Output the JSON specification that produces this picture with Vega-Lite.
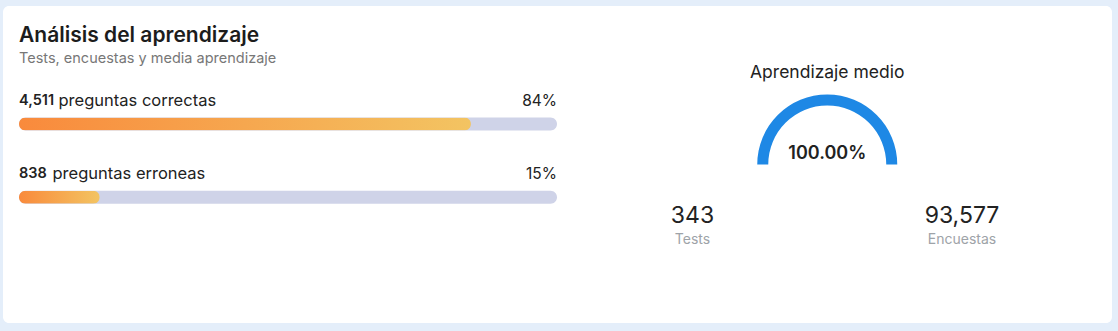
{
  "$schema": "https://vega.github.io/schema/vega-lite/v6.json",
  "width": 1118,
  "height": 331,
  "autosize": {"type": "fit", "contains": "padding"},
  "padding": {"left": 3, "top": 6, "right": 6, "bottom": 8},
  "background": "#e4eefa",
  "config": {
    "view": {"fill": "#ffffff", "stroke": null, "cornerRadius": 6},
    "font": "Inter",
    "text": {"font": "Inter"}
  },
  "title": {
    "text": "Análisis del aprendizaje",
    "subtitle": "Tests, encuestas y media aprendizaje",
    "anchor": "start",
    "frame": "group",
    "orient": "top",
    "offset": -59,
    "dx": 16,
    "font": "Inter",
    "fontSize": 21,
    "fontWeight": 600,
    "color": "#1c1c1c",
    "subtitleFont": "Inter",
    "subtitleFontSize": 14.5,
    "subtitleColor": "#777777",
    "subtitlePadding": 5.5
  },
  "datasets": {
    "questions": [
      {"metric": "correctas", "label": "preguntas correctas", "count": 4511, "share": 0.84},
      {"metric": "erroneas", "label": "preguntas erroneas", "count": 838, "share": 0.15}
    ],
    "gauge": [{"name": "Aprendizaje medio", "value": 1}],
    "stats": [
      {"kind": "Tests", "value": 343},
      {"kind": "Encuestas", "value": 93577}
    ]
  },
  "layer": [
    {
      "data": {"name": "questions"},
      "mark": {"type": "bar", "color": "#cfd3e8", "size": 13, "cornerRadius": 6.5},
      "encoding": {
        "x": {"datum": 1, "type": "quantitative", "scale": {"domain": [0, 1], "range": [16, 554], "nice": false}, "axis": null},
        "y": {"field": "metric", "type": "nominal", "scale": {"type": "point", "domain": ["correctas", "erroneas"], "range": [118, 191.3], "padding": 0}, "axis": null}
      }
    },
    {
      "data": {"name": "questions"},
      "mark": {
        "type": "bar", "size": 13, "cornerRadius": 6.5,
        "color": {"gradient": "linear", "x1": 0, "x2": 1, "y1": 0, "y2": 0,
          "stops": [{"offset": 0, "color": "#f98a3c"}, {"offset": 1, "color": "#f3c462"}]}
      },
      "encoding": {
        "x": {"field": "share", "type": "quantitative", "scale": {"domain": [0, 1], "range": [16, 554], "nice": false}, "axis": null},
        "y": {"field": "metric", "type": "nominal", "scale": {"type": "point", "domain": ["correctas", "erroneas"], "range": [118, 191.3], "padding": 0}, "axis": null}
      }
    },
    {
      "data": {"name": "questions"},
      "mark": {"type": "text", "align": "left", "baseline": "middle", "dy": -23.5, "fontSize": 14.5, "fontWeight": 600, "color": "#222222"},
      "encoding": {
        "x": {"datum": 0, "type": "quantitative", "scale": {"domain": [0, 1], "range": [16, 554], "nice": false}, "axis": null},
        "y": {"field": "metric", "type": "nominal", "scale": {"type": "point", "domain": ["correctas", "erroneas"], "range": [118, 191.3], "padding": 0}, "axis": null},
        "text": {"field": "count", "type": "quantitative", "format": ",d"}
      }
    },
    {
      "data": {"name": "questions"},
      "transform": [{"filter": "datum.metric === 'correctas'"}],
      "mark": {"type": "text", "align": "left", "baseline": "middle", "dy": -23.5, "dx": 39.5, "fontSize": 16.5, "color": "#222222"},
      "encoding": {
        "x": {"datum": 0, "type": "quantitative", "scale": {"domain": [0, 1], "range": [16, 554], "nice": false}, "axis": null},
        "y": {"field": "metric", "type": "nominal", "scale": {"type": "point", "domain": ["correctas", "erroneas"], "range": [118, 191.3], "padding": 0}, "axis": null},
        "text": {"field": "label", "type": "nominal"}
      }
    },
    {
      "data": {"name": "questions"},
      "transform": [{"filter": "datum.metric === 'erroneas'"}],
      "mark": {"type": "text", "align": "left", "baseline": "middle", "dy": -23.5, "dx": 33.5, "fontSize": 16.5, "color": "#222222"},
      "encoding": {
        "x": {"datum": 0, "type": "quantitative", "scale": {"domain": [0, 1], "range": [16, 554], "nice": false}, "axis": null},
        "y": {"field": "metric", "type": "nominal", "scale": {"type": "point", "domain": ["correctas", "erroneas"], "range": [118, 191.3], "padding": 0}, "axis": null},
        "text": {"field": "label", "type": "nominal"}
      }
    },
    {
      "data": {"name": "questions"},
      "mark": {"type": "text", "align": "right", "baseline": "middle", "dy": -23.5, "fontSize": 15.5, "color": "#222222"},
      "encoding": {
        "x": {"datum": 1, "type": "quantitative", "scale": {"domain": [0, 1], "range": [16, 554], "nice": false}, "axis": null},
        "y": {"field": "metric", "type": "nominal", "scale": {"type": "point", "domain": ["correctas", "erroneas"], "range": [118, 191.3], "padding": 0}, "axis": null},
        "text": {"field": "share", "type": "quantitative", "format": ".0%"}
      }
    },
    {
      "data": {"name": "gauge"},
      "mark": {"type": "arc", "innerRadius": 59, "outerRadius": 70, "color": "#1e88e5"},
      "encoding": {
        "x": {"field": "name", "type": "nominal", "scale": {"type": "point", "domain": ["Tests", "Aprendizaje medio", "Encuestas"], "range": [689.5, 959], "padding": 0}, "axis": null},
        "theta": {"field": "value", "type": "quantitative", "scale": {"domain": [0, 1], "range": [-1.5707963, 1.5707963]}}
      }
    },
    {
      "data": {"name": "gauge"},
      "mark": {"type": "text", "align": "center", "baseline": "middle", "dy": -91.5, "fontSize": 17.5, "color": "#222222"},
      "encoding": {
        "x": {"field": "name", "type": "nominal", "scale": {"type": "point", "domain": ["Tests", "Aprendizaje medio", "Encuestas"], "range": [689.5, 959], "padding": 0}, "axis": null},
        "text": {"field": "name", "type": "nominal"}
      }
    },
    {
      "data": {"name": "gauge"},
      "mark": {"type": "text", "align": "center", "baseline": "middle", "dy": -11, "fontSize": 18, "fontWeight": 600, "color": "#222222"},
      "encoding": {
        "x": {"field": "name", "type": "nominal", "scale": {"type": "point", "domain": ["Tests", "Aprendizaje medio", "Encuestas"], "range": [689.5, 959], "padding": 0}, "axis": null},
        "text": {"field": "value", "type": "quantitative", "format": ".2%"}
      }
    },
    {
      "data": {"name": "stats"},
      "mark": {"type": "text", "align": "center", "baseline": "middle", "dy": 51.5, "fontSize": 23, "color": "#222222"},
      "encoding": {
        "x": {"field": "kind", "type": "nominal", "scale": {"type": "point", "domain": ["Tests", "Aprendizaje medio", "Encuestas"], "range": [689.5, 959], "padding": 0}, "axis": null},
        "text": {"field": "value", "type": "quantitative", "format": ","}
      }
    },
    {
      "data": {"name": "stats"},
      "mark": {"type": "text", "align": "center", "baseline": "middle", "dy": 75, "fontSize": 14, "color": "#9ea3a8"},
      "encoding": {
        "x": {"field": "kind", "type": "nominal", "scale": {"type": "point", "domain": ["Tests", "Aprendizaje medio", "Encuestas"], "range": [689.5, 959], "padding": 0}, "axis": null},
        "text": {"field": "kind", "type": "nominal"}
      }
    }
  ],
  "resolve": {"scale": {"x": "independent", "y": "independent", "theta": "independent"}}
}
